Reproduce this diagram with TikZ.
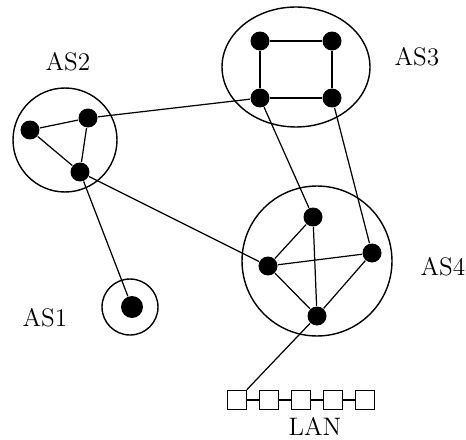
\documentclass[tikz,border=0pt]{standalone}
\usetikzlibrary{positioning, shapes.geometric}
\begin{document}
\begin{tikzpicture}[x=0.02cm, y=-0.02cm, line width=0.7pt, font=\Large,
    router/.style={circle, fill=black, inner sep=0pt, minimum size=0.38cm},
    asarea/.style={draw, circle, line width=0.8pt, inner sep=0pt},
    lanbox/.style={draw, rectangle, line width=0.9pt, inner sep=0pt, minimum size=0.38cm}]
    \useasboundingbox (0,0) rectangle (466,439);

    % Autonomous systems
    \node[asarea, minimum size=2.08cm] (as2) at (65,140) {};
    \node[asarea, ellipse, minimum width=2.96cm, minimum height=2.4cm] (as3) at (296,67) {};
    \node[asarea, minimum size=3cm] (as4) at (317,261) {};
    \node[asarea, minimum size=1.12cm] (as1) at (130,307) {};

    % Labels
    \node (as2lbl) at (68,62) {AS2};
    \node (as3lbl) at (417,57) {AS3};
    \node (as4lbl) at (443,267) {AS4};
    \node (as1lbl) at (45,318) {AS1};

    % Routers in AS2
    \node[router] (a) at (30,130) {};
    \node[router] (b) at (88,118) {};
    \node[router] (c) at (80,172) {};

    % Routers in AS3
    \node[router] (d) at (260,41) {};
    \node[router] (e) at (332,41) {};
    \node[router] (f) at (260,98) {};
    \node[router] (g) at (332,98) {};

    % Routers in AS4
    \node[router] (h) at (313,217) {};
    \node[router] (i) at (268,266) {};
    \node[router] (j) at (372,253) {};
    \node[router] (k) at (317,316) {};

    % Router in AS1
    \node[router, minimum size=0.44cm] (l) at (132,307) {};

    % LAN segment
    \foreach \n/\x in {1/237, 2/269, 3/301, 4/333, 5/365}
        \node[lanbox] (lan\n) at (\x,400) {};
    \foreach \n [evaluate=\n as \m using int(\n+1)] in {1,...,4}
        \draw (lan\n) -- (lan\m);
    \node[inner sep=1pt] (lanlbl) at (315,426) {LAN};

    % Edges inside AS2
    \draw (a) -- (b) -- (c) -- (a);

    % Edges inside AS3
    \draw[line width=1.1pt] (d) -- (e) -- (g) -- (f) -- (d);

    % Edges inside AS4
    \draw (h) -- (i) -- (k) -- (j) -- (i);
    \draw (h) -- (k);

    % Links between systems
    \draw (b) -- (f);
    \draw (c) -- (i);
    \draw (c) -- (l);
    \draw (f) -- (h);
    \draw (g) -- (j);
    \draw (k) -- (lan1);
\end{tikzpicture}
\end{document}
